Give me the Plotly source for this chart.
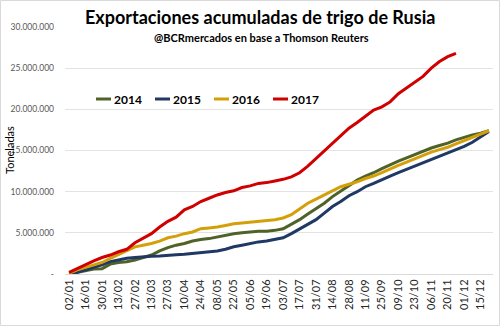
import plotly.graph_objects as go

# Weekly cut-off dates (dd/mm); every other one is labelled on the axis
weeks = [
    "02/01", "09/01", "16/01", "23/01", "30/01", "06/02", "13/02", "20/02",
    "27/02", "06/03", "13/03", "20/03", "27/03", "03/04", "10/04", "17/04",
    "24/04", "01/05", "08/05", "15/05", "22/05", "29/05", "05/06", "12/06",
    "19/06", "26/06", "03/07", "10/07", "17/07", "24/07", "31/07", "07/08",
    "14/08", "21/08", "28/08", "04/09", "11/09", "18/09", "25/09", "02/10",
    "09/10", "16/10", "23/10", "30/10", "06/11", "13/11", "20/11", "27/11",
    "01/12", "08/12", "15/12", "22/12",
]
tick_labels = weeks[::2]

# Cumulative exports, millions of tonnes
exp_2014 = [0.0, 0.2, 0.4, 0.6, 0.65, 1.2, 1.4, 1.5, 1.7, 2.0, 2.3, 2.8, 3.2,
            3.5, 3.7, 4.0, 4.2, 4.3, 4.5, 4.7, 4.9, 5.0, 5.1, 5.2, 5.2, 5.3,
            5.5, 6.0, 6.6, 7.3, 7.9, 8.6, 9.4, 10.1, 10.8, 11.4, 11.9, 12.3,
            12.8, 13.3, 13.7, 14.1, 14.5, 14.9, 15.3, 15.6, 15.9, 16.3, 16.6,
            16.9, 17.1, 17.4]
exp_2015 = [0.0, 0.2, 0.5, 0.8, 1.1, 1.5, 1.7, 1.9, 2.0, 2.1, 2.15, 2.2, 2.3,
            2.35, 2.4, 2.5, 2.6, 2.65, 2.8, 3.0, 3.3, 3.5, 3.7, 3.9, 4.0, 4.2,
            4.4, 4.9, 5.5, 6.0, 6.6, 7.4, 8.2, 8.8, 9.5, 10.0, 10.6, 11.0,
            11.5, 11.9, 12.3, 12.7, 13.1, 13.5, 13.9, 14.3, 14.7, 15.1, 15.5,
            16.0, 16.6, 17.3]
exp_2016 = [0.1, 0.5, 0.8, 1.1, 1.4, 1.9, 2.4, 2.8, 3.3, 3.5, 3.7, 4.0, 4.4,
            4.6, 4.9, 5.1, 5.5, 5.6, 5.7, 5.9, 6.1, 6.2, 6.3, 6.4, 6.5, 6.6,
            6.8, 7.2, 7.9, 8.6, 9.1, 9.6, 10.1, 10.6, 10.9, 11.2, 11.6, 11.9,
            12.3, 12.8, 13.2, 13.6, 14.0, 14.4, 14.8, 15.1, 15.4, 15.8, 16.2,
            16.6, 17.0, 17.4]
exp_2017 = [0.2, 0.7, 1.2, 1.6, 2.0, 2.3, 2.7, 3.0, 3.8, 4.4, 4.9, 5.7, 6.4,
            6.9, 7.8, 8.2, 8.8, 9.2, 9.6, 9.9, 10.1, 10.5, 10.7, 11.0, 11.1,
            11.3, 11.5, 11.8, 12.3, 13.1, 14.0, 14.9, 15.9, 16.8, 17.7, 18.4,
            19.2, 19.9, 20.3, 20.9, 21.9, 22.6, 23.2, 24.0, 25.0, 25.8, 26.4,
            26.8]

series_names = ["2014", "2015", "2016", "2017"]
series_values = [exp_2014, exp_2015, exp_2016, exp_2017]
series_colors = ["#4f6228", "#1f3864", "#d4a00a", "#d00000"]

y_ticks = [0, 5_000_000, 10_000_000, 15_000_000, 20_000_000, 25_000_000, 30_000_000]
y_tick_text = ["-", "5.000.000", "10.000.000", "15.000.000", "20.000.000",
               "25.000.000", "30.000.000"]

W, H = 500, 326
ML, MR, MT, MB = 65, 7, 27, 52
PW, PH = W - ML - MR, H - MT - MB

FONT = "Lato, 'Open Sans', sans-serif"

fig = go.Figure()
for name, vals, col in zip(series_names, series_values, series_colors):
    fig.add_trace(go.Scatter(
        x=weeks[:len(vals)],
        y=[v * 1_000_000 for v in vals],
        mode="lines",
        name=name,
        line=dict(color=col, width=3),
        showlegend=False,
    ))

# Legend drawn as short line swatches with bold labels
shapes = []
annotations = []
leg_y = 1 - (99 - MT) / PH
for i, (name, col) in enumerate(zip(series_names, series_colors)):
    x0 = (96 + 59 * i - ML) / PW
    x1 = x0 + 15 / PW
    shapes.append(dict(type="line", xref="paper", yref="paper",
                       x0=x0, x1=x1, y0=leg_y, y1=leg_y,
                       line=dict(color=col, width=3)))
    annotations.append(dict(text=f"<b>{name}</b>", xref="paper", yref="paper",
                            x=x1 + 1 / PW, y=leg_y, xanchor="left", yanchor="middle",
                            showarrow=False,
                            font=dict(size=12, color="#000000", family=FONT)))

# Title and subtitle
annotations.append(dict(text="<b>Exportaciones acumuladas de trigo de Rusia</b>",
                        xref="paper", yref="paper",
                        x=(260 - ML) / PW, y=1 - (17 - MT) / PH,
                        xanchor="center", yanchor="middle", showarrow=False,
                        font=dict(size=18, color="#000000", family=FONT)))
annotations.append(dict(text="<b>@BCRmercados en base a Thomson Reuters</b>",
                        xref="paper", yref="paper",
                        x=(261 - ML) / PW, y=1 - (37 - MT) / PH,
                        xanchor="center", yanchor="middle", showarrow=False,
                        font=dict(size=11, color="#000000", family=FONT)))

# Vertical axis title
annotations.append(dict(text="Toneladas", xref="paper", yref="paper",
                        x=(9 - ML) / PW, y=1 - (150 - MT) / PH,
                        xanchor="center", yanchor="middle", textangle=-90,
                        showarrow=False,
                        font=dict(size=11, color="#000000", family=FONT)))

# Outer chart border
shapes.append(dict(type="rect", xref="paper", yref="paper",
                   x0=(0.5 - ML) / PW, x1=(W - 0.5 - ML) / PW,
                   y0=-(MB - 0.5) / PH, y1=1 + (MT - 0.5) / PH,
                   line=dict(color="#d9d9d9", width=1), layer="below"))

fig.update_layout(
    width=W, height=H,
    margin=dict(l=ML, r=MR, t=MT, b=MB, autoexpand=False),
    paper_bgcolor="#ffffff",
    plot_bgcolor="#ffffff",
    font=dict(family=FONT, color="#404040"),
    shapes=shapes,
    annotations=annotations,
    showlegend=False,
)
fig.update_xaxes(
    type="category",
    categoryorder="array",
    categoryarray=weeks,
    range=[-0.5, len(weeks) - 0.5],
    tickmode="array",
    tickvals=tick_labels,
    ticktext=tick_labels,
    tickangle=-90,
    tickfont=dict(size=11, color="#262626", family=FONT),
    showgrid=False,
    showline=True,
    linecolor="#d9d9d9",
    linewidth=1,
    ticks="",
    zeroline=False,
    automargin=False,
)
fig.update_yaxes(
    range=[0, 30_000_000],
    tickmode="array",
    tickvals=y_ticks,
    ticktext=y_tick_text,
    tickfont=dict(size=8.5, color="#595959", family=FONT),
    ticklabelstandoff=10,
    showgrid=True,
    gridcolor="#e3e3e3",
    gridwidth=1,
    zeroline=False,
    showline=False,
    ticks="",
    automargin=False,
)

fig.write_html("out.html")
